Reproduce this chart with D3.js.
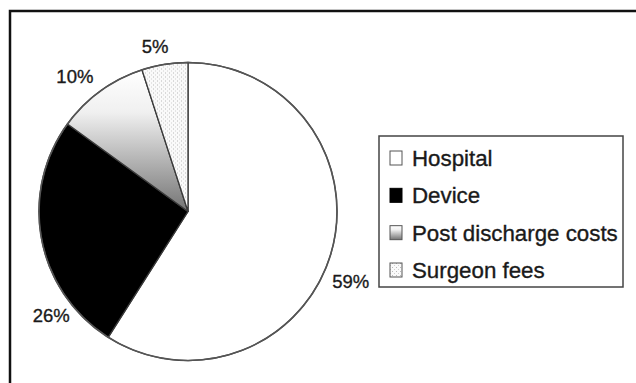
<!DOCTYPE html>
<html lang="en">
<head>
<meta charset="utf-8">
<title>Cost breakdown</title>
<script src="https://cdn.jsdelivr.net/npm/d3@7/dist/d3.min.js"></script>
<style>
  html, body { margin: 0; padding: 0; background: #fff; }
  text { font-family: "Liberation Sans", Arial, Helvetica, sans-serif; fill: #1a1a1a; stroke: #1a1a1a; stroke-width: 0.35px; }
</style>
</head>
<body>
<div id="chart"></div>
<script>
// data
const categories = ["Hospital", "Device", "Post discharge costs", "Surgeon fees"];
const shares = [59, 26, 10, 5];
const labels = ["59%", "26%", "10%", "5%"];

// label placement (excel "best fit" look): angle offset in degrees and radius
const labelShift = [7, -26.5, -4, -2.3];
const labelRadius = [177, 172, 176, 168];

const width = 636, height = 383;
const cx = 188, cy = 211.5, r = 149;

const svg = d3.select("#chart").append("svg")
    .attr("width", width)
    .attr("height", height);

const defs = svg.append("defs");

// gradient for post discharge costs
const grad = defs.append("linearGradient")
    .attr("id", "gradPost")
    .attr("x1", 0).attr("y1", 0).attr("x2", 0).attr("y2", 1);
grad.append("stop").attr("offset", "0%").attr("stop-color", "#ffffff");
grad.append("stop").attr("offset", "30%").attr("stop-color", "#f0f0f0");
grad.append("stop").attr("offset", "100%").attr("stop-color", "#747474");

// dotted fill for surgeon fees
const pat = defs.append("pattern")
    .attr("id", "dots")
    .attr("width", 4).attr("height", 4)
    .attr("patternUnits", "userSpaceOnUse");
pat.append("rect").attr("width", 4).attr("height", 4).attr("fill", "#fafafa");
pat.append("rect").attr("x", 1).attr("y", 1).attr("width", 1).attr("height", 1).attr("fill", "#b8b8b8");
pat.append("rect").attr("x", 3).attr("y", 3).attr("width", 1).attr("height", 1).attr("fill", "#cfcfcf");

const fills = ["#ffffff", "#000000", "url(#gradPost)", "url(#dots)"];

// outer frame (only left and top edges show in the picture)
svg.append("rect")
    .attr("x", 10).attr("y", 11)
    .attr("width", 800).attr("height", 600)
    .attr("fill", "none")
    .attr("stroke", "#111")
    .attr("stroke-width", 2.5);

const pie = d3.pie().sort(null).value(d => d)(shares);
const arc = d3.arc().innerRadius(0).outerRadius(r);

const g = svg.append("g").attr("transform", `translate(${cx},${cy})`);

g.selectAll("path.slice")
    .data(pie)
    .join("path")
    .attr("class", "slice")
    .attr("d", arc)
    .attr("fill", (d, i) => fills[i])
    .attr("stroke", "#3a3a3a")
    .attr("stroke-width", 1.3)
    .attr("stroke-linejoin", "round");

// outline of the whole pie
g.append("circle")
    .attr("r", r)
    .attr("fill", "none")
    .attr("stroke", "#555")
    .attr("stroke-width", 1.6);

// percentage labels
g.selectAll("text.pct")
    .data(pie)
    .join("text")
    .attr("class", "pct")
    .attr("text-anchor", "middle")
    .attr("dy", "0.36em")
    .attr("font-size", 18.5)
    .attr("x", (d, i) => {
        const a = (d.startAngle + d.endAngle) / 2 + labelShift[i] * Math.PI / 180;
        return Math.sin(a) * labelRadius[i];
    })
    .attr("y", (d, i) => {
        const a = (d.startAngle + d.endAngle) / 2 + labelShift[i] * Math.PI / 180;
        return -Math.cos(a) * labelRadius[i];
    })
    .text((d, i) => labels[i]);

// legend
const legend = svg.append("g").attr("transform", "translate(379,136)");
legend.append("rect")
    .attr("width", 244).attr("height", 151)
    .attr("fill", "#fff")
    .attr("stroke", "#444")
    .attr("stroke-width", 1.5);

const ly = d3.scalePoint().domain(categories).range([22, 134]);

const item = legend.selectAll("g.item")
    .data(categories)
    .join("g")
    .attr("class", "item")
    .attr("transform", d => `translate(0,${ly(d)})`);

item.append("rect")
    .attr("x", 11).attr("y", -7)
    .attr("width", 12).attr("height", 14)
    .attr("fill", (d, i) => fills[i])
    .attr("stroke", (d, i) => i === 1 ? "#000" : "#555")
    .attr("stroke-width", 1);

item.append("text")
    .attr("x", 33)
    .attr("dy", "0.36em")
    .attr("font-size", 22.3)
    .text(d => d);
</script>
</body>
</html>
